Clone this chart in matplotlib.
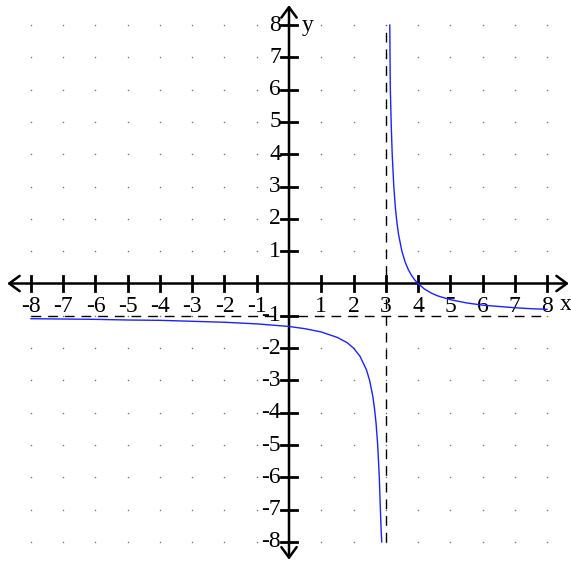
import matplotlib
matplotlib.use("Agg")
import matplotlib.pyplot as plt

# Data
right_x = [3.125, 3.14, 3.17, 3.2, 3.25, 3.3, 3.35, 3.4, 3.5, 3.6, 3.7, 3.8, 3.9, 4.0, 4.2, 4.4, 4.6, 4.8, 5.0, 5.5, 6.0, 6.5, 7.0, 7.5, 8.0]
right_y = [8.0, 6.1, 4.9, 4.0, 3.0, 2.33, 1.86, 1.5, 1.0, 0.67, 0.43, 0.25, 0.11, 0.0, -0.17, -0.29, -0.38, -0.44, -0.5, -0.6, -0.67, -0.71, -0.75, -0.78, -0.8]
left_x = [-8.0, -7.0, -6.0, -5.0, -4.0, -3.0, -2.0, -1.0, 0.0, 0.5, 1.0, 1.5, 1.8, 2.0, 2.2, 2.4, 2.5, 2.6, 2.65, 2.7, 2.75, 2.8, 2.83, 2.86, 2.875]
left_y = [-1.09, -1.1, -1.11, -1.13, -1.14, -1.17, -1.2, -1.25, -1.33, -1.4, -1.5, -1.67, -1.83, -2.0, -2.25, -2.67, -3.0, -3.5, -3.86, -4.33, -5.0, -6.0, -6.9, -7.7, -8.0]
x_ticks = [-8, -7, -6, -5, -4, -3, -2, -1, 1, 2, 3, 4, 5, 6, 7, 8]
y_ticks = [-8, -7, -6, -5, -4, -3, -2, -1, 1, 2, 3, 4, 5, 6, 7, 8]
h_asymptote = -1
v_asymptote = 3

fig = plt.figure(figsize=(5.71, 5.63), dpi=100)
ax = fig.add_axes([0, 0, 1, 1])
ax.set_xlim(-8.961, 8.744)
ax.set_ylim(-8.653, 8.777)
ax.axis("off")

serif = "Liberation Serif"

# grid dots
gx, gy = [], []
for i in range(-8, 9):
    for j in range(-8, 9):
        if i != 0 and j != 0:
            gx.append(i); gy.append(j)
ax.scatter(gx, gy, s=1.2, color="#777777", zorder=1, linewidths=0)

# asymptotes
ax.plot([-8, 8], [h_asymptote, h_asymptote], color="black", lw=1.0,
        dashes=(7, 5), zorder=2)
ax.plot([v_asymptote, v_asymptote], [-8, 8], color="black", lw=1.0,
        dashes=(7, 5), zorder=2)

# axes with arrows
astyle = "<->,head_length=0.75,head_width=0.55"
ax.annotate("", xy=(8.68, 0), xytext=(-8.74, 0),
            arrowprops=dict(arrowstyle=astyle, lw=1.8, color="black",
                            shrinkA=0, shrinkB=0), zorder=3)
ax.annotate("", xy=(0, 8.62), xytext=(0, -8.55),
            arrowprops=dict(arrowstyle=astyle, lw=1.8, color="black",
                            shrinkA=0, shrinkB=0), zorder=3)

tl = 0.24
for t in x_ticks:
    ax.plot([t, t], [-tl, tl], color="black", lw=2, zorder=3)
    ax.text(t, -0.70, str(t), ha="center", va="center", fontsize=17,
            family=serif, zorder=4)
for t in y_ticks:
    ax.plot([-tl, tl], [t, t], color="black", lw=2, zorder=3)
    ax.text(-0.25, t, str(t), ha="right", va="center", fontsize=17,
            family=serif, zorder=4)

ax.text(8.4, -0.66, "x", ha="left", va="center", fontsize=17, family=serif)
ax.text(0.4, 8.0, "y", ha="left", va="center", fontsize=17, family=serif)

# curve
ax.plot(right_x, right_y, color="#2020ff", lw=1.0, zorder=5)
ax.plot(left_x, left_y, color="#2020ff", lw=1.0, zorder=5)

fig.savefig("out.png", dpi=100)
